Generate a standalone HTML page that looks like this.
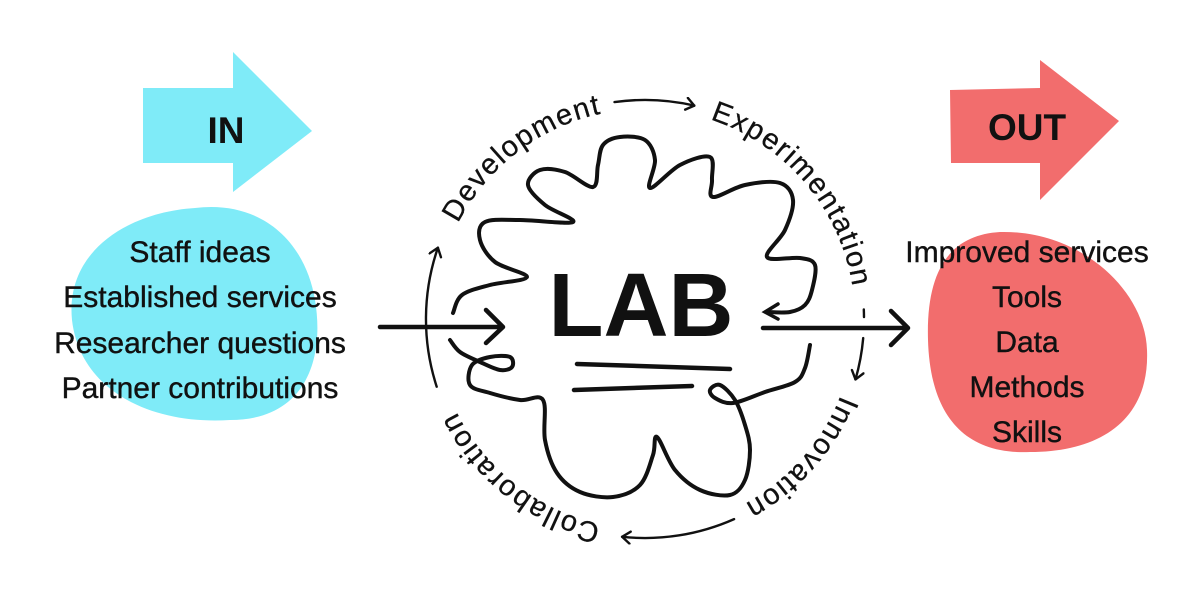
<!DOCTYPE html>
<html><head><meta charset="utf-8"><style>
html,body{margin:0;padding:0;background:#fff;}
svg{display:block;}
text{font-family:"Liberation Sans","DejaVu Sans",sans-serif;fill:#111;}
</style></head><body>
<svg id="s" width="1198" height="591" viewBox="0 0 1198 591" xmlns="http://www.w3.org/2000/svg">
<defs>
<marker id="ah" markerWidth="16" markerHeight="16" refX="10" refY="7" orient="auto" markerUnits="userSpaceOnUse">
<path d="M2,1 L10,7 L2,13" fill="none" stroke="#111" stroke-width="2.4" stroke-linecap="round" stroke-linejoin="round"/>
</marker>
<path id="circ" d="M435,319 A210,210 0 1 1 855,319 A210,210 0 1 1 435,319"/>
</defs>
<!-- IN -->
<path d="M143,88 L233,88 L233,52 L312,131 L233,192 L233,163 L143,163 Z" fill="#7FEBF8"/>
<text x="226" y="143" font-size="37" font-weight="bold" text-anchor="middle">IN</text>
<path d="M195,208 C260,200 305,240 315,300 C325,360 305,420 230,420 C150,425 80,390 72,320 C65,250 130,212 195,208 Z" fill="#7FEBF8"/>
<g font-size="30" text-anchor="middle" stroke="#111" stroke-width="0.4">
<text x="200" y="262">Staff ideas</text>
<text x="200" y="307">Established services</text>
<text x="200" y="353">Researcher questions</text>
<text x="200" y="398">Partner contributions</text>
</g>
<!-- OUT -->
<path d="M950,90 L1040,88 L1040,60 L1119,121 L1040,200 L1040,163 L951,163 Z" fill="#F26D6D"/>
<text x="1027" y="140" font-size="37" font-weight="bold" text-anchor="middle">OUT</text>
<path d="M1000,232 C1080,230 1145,290 1147,350 C1150,420 1100,452 1030,452 C960,455 930,410 928,340 C926,270 950,235 1000,232 Z" fill="#F26D6D"/>
<g font-size="30" text-anchor="middle" stroke="#111" stroke-width="0.4">
<text x="1027" y="262">Improved services</text>
<text x="1027" y="307">Tools</text>
<text x="1027" y="352">Data</text>
<text x="1027" y="397">Methods</text>
<text x="1027" y="442">Skills</text>
</g>
<!-- main arrows -->
<path d="M380,327 L503,327 M486,310 L503,327 L486,343" fill="none" stroke="#111" stroke-width="4.5" stroke-linecap="round" stroke-linejoin="round"/>
<path d="M763,328 L908,328 M891,311 L908,328 L891,345" fill="none" stroke="#111" stroke-width="4.5" stroke-linecap="round" stroke-linejoin="round"/>
<!-- LAB -->
<text x="641" y="336" font-size="90" font-weight="bold" text-anchor="middle">LAB</text>
<path d="M577,364 L730,369 M574,390 L692,386" stroke="#111" stroke-width="4.5" stroke-linecap="round"/>
<g id="cloud" fill="none" stroke="#111" stroke-width="4" stroke-linecap="round" stroke-linejoin="round"></g>
<path d="M778,304 L765,312 L778,319" fill="none" stroke="#111" stroke-width="3.5" stroke-linecap="round"/>
<!-- circle text -->
<g font-size="29" letter-spacing="1.5" stroke="#111" stroke-width="0.3">
<text><textPath href="#circ" startOffset="193" text-anchor="middle">Development</textPath></text>
<text><textPath href="#circ" startOffset="512" text-anchor="middle">Experimentation</textPath></text>
<text><textPath href="#circ" startOffset="812" text-anchor="middle">Innovation</textPath></text>
<text><textPath href="#circ" startOffset="1129" text-anchor="middle">Collaboration</textPath></text>
</g>
<g id="arcs" fill="none" stroke="#111" stroke-width="2.4" stroke-linecap="round"></g>
</svg>
<script>
(function(){
var NS="http://www.w3.org/2000/svg";
function smooth(p){
 var d="M"+p[0][0]+","+p[0][1];
 for(var i=0;i<p.length-1;i++){
  var p0=p[i-1]||p[i],p1=p[i],p2=p[i+1],p3=p[i+2]||p2;
  var c1=[p1[0]+(p2[0]-p0[0])/6,p1[1]+(p2[1]-p0[1])/6];
  var c2=[p2[0]-(p3[0]-p1[0])/6,p2[1]-(p3[1]-p1[1])/6];
  d+=" C"+c1[0].toFixed(1)+","+c1[1].toFixed(1)+" "+c2[0].toFixed(1)+","+c2[1].toFixed(1)+" "+p2[0]+","+p2[1];
 }
 return d;
}
var up=[[453,313],[462,295],[490,285],[527,277],[495,262],[480,240],[485,222],[520,220],[573,222],[545,205],[528,185],[540,170],[565,172],[593,187],[598,165],[603,145],[620,137],[645,140],[655,160],[650,188],[680,165],[710,157],[712,180],[713,197],[745,185],[780,183],[793,200],[785,230],[767,257],[800,258],[815,265],[812,290],[805,305],[790,312],[766,312]];
var lo=[[810,345],[805,368],[795,382],[765,392],[733,403],[715,398],[710,390],[720,385],[735,400],[745,425],[750,450],[745,480],[730,495],[700,490],[675,470],[657,437],[653,455],[640,485],[613,497],[580,492],[557,473],[545,440],[543,400],[520,400],[490,393],[470,385],[472,365],[490,357],[510,357],[512,367],[500,370],[480,362],[460,352],[450,340]];
var g=document.getElementById("cloud");
[up,lo].forEach(function(p){var e=document.createElementNS(NS,"path");e.setAttribute("d",smooth(p));g.appendChild(e);});
var cx=645,cy=319,r=219;
function pt(a){a=a*Math.PI/180;return (cx+r*Math.cos(a)).toFixed(1)+","+(cy+r*Math.sin(a)).toFixed(1);}
var arcs=[[-98,-77,1],[-2.5,-0.5,0],[5,16,1],[66,96,1],[162,199,1]];
var ag=document.getElementById("arcs");
arcs.forEach(function(a){var e=document.createElementNS(NS,"path");e.setAttribute("d","M"+pt(a[0])+" A"+r+","+r+" 0 0 1 "+pt(a[1]));if(a[2])e.setAttribute("marker-end","url(#ah)");ag.appendChild(e);});
})();
</script>
</body></html>
